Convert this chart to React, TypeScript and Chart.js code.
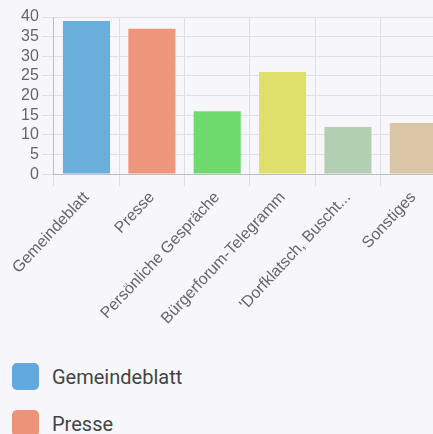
import React, { useEffect, useRef } from "react";
import { Chart, registerables } from "chart.js";

Chart.register(...registerables);

const categories = [
  "Gemeindeblatt",
  "Presse",
  "Persönliche Gespräche",
  "Bürgerforum-Telegramm",
  "'Dorfklatsch, Buscht...",
  "Sonstiges",
];
const values = [39, 37, 16, 26, 12, 13];
const barColors = ["#6aaedc", "#ef977c", "#6fdb6f", "#dfdf6c", "#b3cfb1", "#dcc6a8"];
const legendColors = ["#62a9dd", "#ec9479", "#68d868", "#dcdc66", "#abc9a9", "#d8c2a3"];
const yTicksMax = 40;
const yStep = 5;

export default function App() {
  const ref = useRef<HTMLCanvasElement | null>(null);
  useEffect(() => {
    if (!ref.current) return;
    const chart = new Chart(ref.current, {
      type: "bar",
      data: {
        labels: categories,
        datasets: [
          {
            data: values,
            backgroundColor: barColors,
            borderWidth: 0,
          },
        ],
      },
      options: {
        animation: false,
        responsive: false,
        devicePixelRatio: 1,
        layout: { padding: { top: 17, left: 18, right: 0, bottom: 0 } },
        plugins: { legend: { display: false }, tooltip: { enabled: false } },
        scales: {
          x: {
            grid: { color: "#dedee6", tickLength: 12, drawOnChartArea: true },
            border: { color: "#bdbdc6" },
            ticks: {
              color: "#666",
              font: { size: 16, family: "Arial, 'Liberation Sans', sans-serif" },
              maxRotation: 47,
              minRotation: 47,
              autoSkip: false,
              padding: 2,
            },
          },
          y: {
            min: 0,
            max: yTicksMax,
            grid: { color: "#dedee6", tickLength: 12 },
            border: { color: "#bdbdc6" },
            ticks: {
              stepSize: yStep,
              autoSkip: false,
              maxTicksLimit: 20,
              color: "#666",
              font: { size: 16, lineHeight: 1, family: "Arial, 'Liberation Sans', sans-serif" },
              padding: 3,
            },
          },
        },
      },
    });
    return () => chart.destroy();
  }, []);

  return (
    <div
      style={{
        position: "fixed",
        inset: 0,
        overflow: "hidden",
        background: "#f7f7fb",
      }}
    >
      <canvas
        ref={ref}
        width={446}
        height={330}
        style={{ position: "absolute", left: 0, top: 0, width: 446, height: 330 }}
      />
      <div
        style={{
          position: "absolute",
          left: 12,
          top: 363,
          fontFamily: "Roboto, sans-serif",
          fontSize: 20,
          color: "#444",
        }}
      >
        {categories.map((c, i) => (
          <div key={c} style={{ display: "flex", alignItems: "center", height: 27, marginBottom: 20 }}>
            <span
              style={{
                display: "inline-block",
                width: 27,
                height: 27,
                borderRadius: 5,
                background: legendColors[i],
                marginRight: 13,
              }}
            />
            <span>{c}</span>
          </div>
        ))}
      </div>
    </div>
  );
}
